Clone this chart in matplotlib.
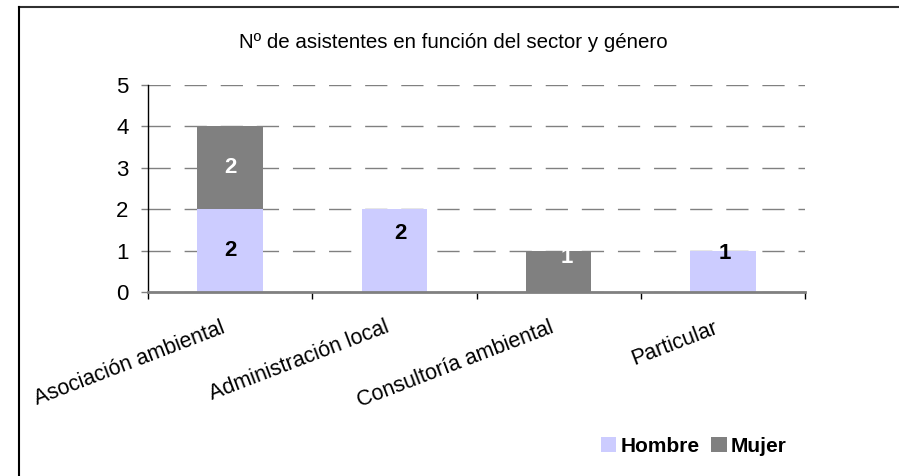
import matplotlib
matplotlib.use("Agg")
import matplotlib.pyplot as plt
from matplotlib.lines import Line2D
import numpy as np

categories = ["Asociación ambiental", "Administración local", "Consultoría ambiental", "Particular"]
hombre = [2, 2, 0, 1]
mujer = [2, 0, 1, 0]
title = "Nº de asistentes en función del sector y género"
yticks = [0, 1, 2, 3, 4, 5]

plt.rcParams['font.family'] = ['Liberation Sans', 'DejaVu Sans']

W, H = 899, 476
fig = plt.figure(figsize=(W / 100, H / 100), dpi=100)
ax = fig.add_axes([148 / W, (H - 292) / H, (805 - 148) / W, (292 - 85) / H])

c_h = "#CCCCFF"
c_m = "#808080"
x = np.arange(len(categories))
ax.bar(x, hombre, width=0.4, color=c_h, zorder=2, label="Hombre")
ax.bar(x, mujer, width=0.4, bottom=hombre, color=c_m, zorder=2, label="Mujer")

ax.set_xlim(-0.5, len(categories) - 0.5)
ax.set_ylim(0, 5)
ax.set_yticks(yticks)
ax.set_yticklabels([str(v) for v in yticks], fontsize=16)
ax.yaxis.grid(True, color="#808080", linewidth=1, linestyle=(0, (16, 10)), zorder=1)
ax.set_axisbelow(True)

# x ticks at category boundaries
ax.set_xticks(np.arange(len(categories) + 1) - 0.5)
ax.set_xticklabels([])
ax.tick_params(axis='x', direction='out', length=5, width=1, color="#000000")
ax.tick_params(axis='y', direction='out', length=5, width=1, color="#808080", pad=9)

for s in ["top", "right"]:
    ax.spines[s].set_visible(False)
ax.spines["left"].set_color("#000000")
ax.spines["left"].set_linewidth(1)
ax.spines["bottom"].set_color("#808080")
ax.spines["bottom"].set_linewidth(2)
ax.spines["bottom"].set_zorder(3)

# rotated category labels
for i, lab in enumerate(categories):
    ax.annotate(lab, xy=(i, 0), xycoords=('data', 'axes fraction'),
                xytext=(-7, -18), textcoords='offset points',
                ha='right', va='top', rotation=21, rotation_mode='anchor',
                fontsize=15.5, color="#000000")

# value labels (pixel offsets mimic the original's placement)
lab_off_h = [(0, 0), (6, 17), (0, 0), (2, 18)]
lab_off_m = [(0, 0), (0, 0), (8, 14), (0, 0)]
for i in range(len(categories)):
    if hombre[i] > 0:
        dx, dy = lab_off_h[i]
        ax.annotate(str(hombre[i]), xy=(i, hombre[i] / 2),
                    xytext=(dx * 0.72, dy * 0.72), textcoords='offset points',
                    ha='center', va='center', fontsize=16, fontweight='bold', color="#000000")
    if mujer[i] > 0:
        dx, dy = lab_off_m[i]
        ax.annotate(str(mujer[i]), xy=(i, hombre[i] + mujer[i] / 2),
                    xytext=(dx * 0.72, dy * 0.72), textcoords='offset points',
                    ha='center', va='center', fontsize=16, fontweight='bold', color="#FFFFFF")

fig.text(453 / W, 1 - 42 / H, title, ha='center', va='center', fontsize=14.8)

leg = fig.legend(loc='center right', bbox_to_anchor=(795 / W, 1 - 446 / H), ncol=2, frameon=False,
                 prop={'size': 15, 'weight': 'bold'}, handlelength=0.75, handleheight=0.75,
                 handletextpad=0.2, columnspacing=0.55, borderaxespad=0)

# outer frame
fig.add_artist(Line2D([19 / W, 1.0], [1 - 6.5 / H, 1 - 6.5 / H], transform=fig.transFigure,
                      color="#303030", linewidth=1.5))
fig.add_artist(Line2D([19 / W, 19 / W], [0, 1 - 6.5 / H], transform=fig.transFigure,
                      color="#000000", linewidth=1.5))

fig.savefig("out.png", dpi=100, facecolor="white")
